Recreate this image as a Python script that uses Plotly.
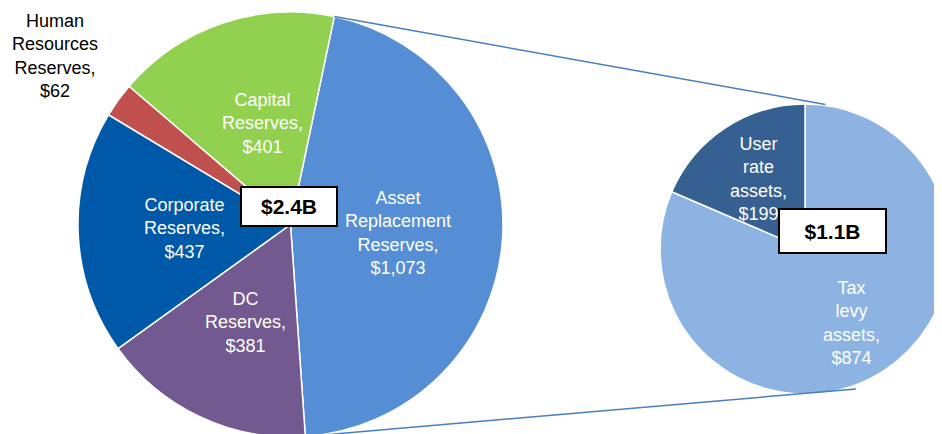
import math
import plotly.graph_objects as go

# ---- data ----
left_labels = ["Asset Replacement Reserves", "DC Reserves", "Corporate Reserves",
               "Human Resources Reserves", "Capital Reserves"]
left_values = [1073, 381, 437, 62, 401]
left_colors = ["#558ED5", "#725990", "#0059A8", "#C0504D", "#92D050"]
left_text = ["Asset<br>Replacement<br>Reserves,<br>$1,073", "DC<br>Reserves,<br>$381",
             "Corporate<br>Reserves,<br>$437", "Human<br>Resources<br>Reserves,<br>$62",
             "Capital<br>Reserves,<br>$401"]
left_total_label = "$2.4B"

right_labels = ["Tax levy assets", "User rate assets"]
right_values = [874, 199]
right_colors = ["#8DB3E2", "#376092"]
right_text = ["Tax<br>levy<br>assets,<br>$874", "User<br>rate<br>assets,<br>$199"]
right_total_label = "$1.1B"

W, H = 942, 434
OFF = 8  # page body margin offset
def px(x):
    return (x - OFF) / W
def py(y):
    return 1 - (y - OFF) / H

# geometry (page pixels)
LC = (290.5, 224.5); LR = 212.5
RC = (805.0, 249.0); RR = 145.0
left_rotation = 11.9

fig = go.Figure()
fig.add_trace(go.Pie(
    labels=left_labels, values=left_values, sort=False, direction="clockwise",
    rotation=left_rotation, textinfo="none", hoverinfo="label+value",
    marker=dict(colors=left_colors, line=dict(color="white", width=1.5)),
    domain=dict(x=[px(LC[0] - LR), px(LC[0] + LR)], y=[py(LC[1] + LR), py(LC[1] - LR)]),
    showlegend=False))
fig.add_trace(go.Pie(
    labels=right_labels, values=right_values, sort=False, direction="clockwise",
    rotation=0, textinfo="none", hoverinfo="label+value",
    marker=dict(colors=right_colors, line=dict(color="white", width=1.5)),
    domain=dict(x=[px(RC[0] - RR), min(1.0, px(RC[0] + RR))],
                y=[py(RC[1] + RR), py(RC[1] - RR)]),
    showlegend=False))

# connector lines: from ends of the Asset Replacement slice to the right pie
asset_deg = left_values[0] / sum(left_values) * 360
def on_circle(c, r, deg):
    a = math.radians(deg)
    return (c[0] + r * math.sin(a), c[1] - r * math.cos(a))
p1 = on_circle(LC, LR, left_rotation)
p2 = on_circle(LC, LR, left_rotation + asset_deg)
q1 = on_circle(RC, RR + 1, 8)
q2 = on_circle(RC, RR + 4, 160)
for a, b in [(p1, q1), (p2, q2)]:
    fig.add_shape(type="line", xref="paper", yref="paper",
                  x0=px(a[0]), y0=py(a[1]), x1=px(b[0]), y1=py(b[1]),
                  line=dict(color="#4A7EBB", width=1.5))

FONT = "Arial, Liberation Sans, sans-serif"
FS = 18
label_pos = [(398, 233), (245, 322), (184, 228), (55, 56), (262, 123)]
label_col = ["white", "white", "white", "black", "white"]
for t, (x, y), c in zip(left_text, label_pos, label_col):
    fig.add_annotation(x=px(x), y=py(y), xref="paper", yref="paper", text=t,
                       showarrow=False, font=dict(family=FONT, size=FS, color=c),
                       align="center", xanchor="center", yanchor="middle")
for t, (x, y) in zip(right_text, [(851, 323), (758, 179)]):
    fig.add_annotation(x=px(x), y=py(y), xref="paper", yref="paper", text=t,
                       showarrow=False, font=dict(family=FONT, size=FS, color="white"),
                       align="center", xanchor="center", yanchor="middle")

# total boxes
fig.add_annotation(x=px(288.5), y=py(206.5), xref="paper", yref="paper",
                   text="<b>" + left_total_label + "</b>", showarrow=False,
                   font=dict(family=FONT, size=21, color="black"),
                   bgcolor="white", bordercolor="black", borderwidth=2, borderpad=0,
                   width=94, height=37, xanchor="center", yanchor="middle")
fig.add_annotation(x=px(832.5), y=py(231), xref="paper", yref="paper",
                   text="<b>" + right_total_label + "</b>", showarrow=False,
                   font=dict(family=FONT, size=21, color="black"),
                   bgcolor="white", bordercolor="black", borderwidth=2, borderpad=0,
                   width=105, height=42, xanchor="center", yanchor="middle")

fig.update_layout(width=W, height=H, margin=dict(l=0, r=0, t=0, b=0),
                  paper_bgcolor="white", plot_bgcolor="white")
fig.write_html("out.html")
